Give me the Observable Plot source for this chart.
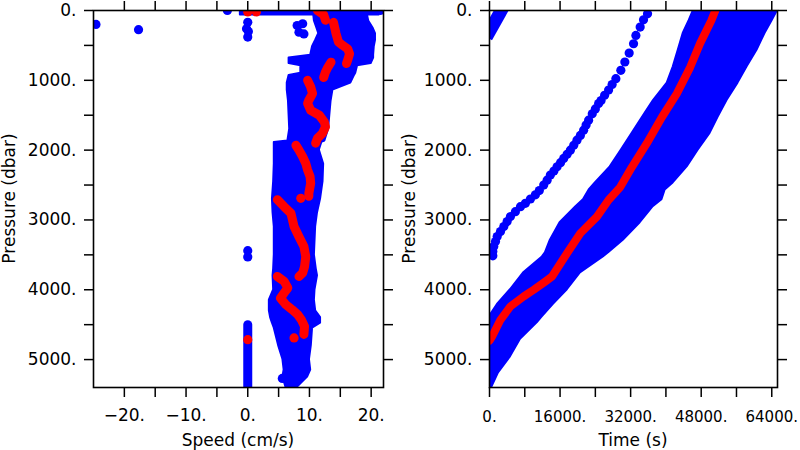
<!DOCTYPE html>
<html><head><meta charset="utf-8">
<script src="https://cdn.jsdelivr.net/npm/d3@7"></script>
<script src="https://cdn.jsdelivr.net/npm/@observablehq/plot@0.6"></script>
<style>
body{margin:0;background:#fff;}
#wrap{position:relative;width:800px;height:450px;overflow:hidden;}
#left,#right{position:absolute;top:0;width:400px;height:450px;}
#left{left:0}#right{left:400px}
</style></head><body>
<div id="wrap"><div id="left"></div><div id="right"></div></div>
<script>
const BLUE = "#0000ff", RED = "#ff0000";

// ---------- Left panel: Speed vs Pressure ----------
const spdTicks = [-20, -15, -10, -5, 0, 5, 10, 15, 20];
const spdLabels = [-20, -10, 0, 10, 20];
const presTicks = [0, 500, 1000, 1500, 2000, 2500, 3000, 3500, 4000, 4500, 5000];
const presLabels = [0, 1000, 2000, 3000, 4000, 5000];

// envelope of the blue speed cloud
const spdEnvP  = [0, 65, 65, 150, 250, 330, 430, 520, 640, 680, 760, 790, 900, 930, 1040, 1140, 1300, 1500, 1700, 1870, 1890, 2000, 2200, 2450, 2700, 2900, 3100, 3500, 3700, 3800, 4000, 4150, 4300, 4400, 4480, 4550, 4800, 5000, 5150, 5250, 5400];
const spdEnvLo = [-1.2, -1.2, 10.7, 10.8, 11.2, 11.5, 11.0, 10.5, 10.2, 6.7, 6.7, 8.6, 8.6, 6.7, 6.4, 6.4, 6.6, 6.7, 6.8, 6.5, 4.3, 4.3, 4.3, 4.2, 4.0, 4.1, 4.3, 4.3, 4.2, 4.1, 4.2, 3.5, 3.5, 3.7, 4.0, 4.3, 5.0, 5.7, 5.9, 5.7, 6.2];
const spdEnvHi = [21.3, 21.3, 19.4, 19.6, 20.3, 20.7, 20.7, 20.5, 20.4, 20.4, 20.0, 17.8, 17.5, 17.3, 16.7, 13.8, 13.5, 13.3, 13.1, 12.5, 12.0, 11.6, 12.3, 12.2, 11.8, 11.3, 11.0, 10.8, 11.1, 11.3, 10.9, 10.8, 11.0, 11.8, 11.8, 10.5, 10.3, 10.0, 10.2, 9.7, 8.0];

// isolated blue speed points
const spdOutS = [-24.6, -17.7, -3.3, 21.5, 0, -0.2, 0.1, 0, 0, 0, 8.0, 8.9, 8.3, 9.1, 5.6];
const spdOutP = [200, 275, 0, 0, 170, 260, 300, 380, 3440, 3530, 215, 190, 310, 335, 5270];
// zero-speed column at depth
const zeroColS = [0, 0];
const zeroColP = [4500, 5400];

// mean speed profile (red), in segments
const meanSeg = [1,1,1, 2,2,2,2,2,2,2,2, 3,3,3,3, 4,4,4,4,4,4,4,4,4,4,4,4, 5,5,5,5,5,5,5,5,5, 6,6,6,6,6,6,6,6,6,6, 7,7,7,7,7,7,7,7,7,7,7];
const meanS = [11.3, 12.3, 12.6,
  13.9, 14.3, 14.7, 15.4, 16.2, 16.5, 16.2, 16.0,
  13.5, 13.0, 12.6, 12.3,
  9.7, 10.2, 10.5, 9.9, 9.7, 10.2, 11.6, 12.4, 12.6, 12.1, 11.3, 11.0,
  7.8, 8.3, 8.9, 9.4, 9.7, 10.1, 10.2, 9.9, 9.9,
  4.8, 5.9, 7.0, 7.5, 8.3, 9.1, 9.4, 9.2, 8.9, 8.3,
  4.8, 5.9, 6.5, 5.9, 5.3, 6.2, 7.2, 8.1, 8.7, 9.2, 9.1];
const meanP = [0, 60, 140,
  170, 330, 450, 500, 550, 620, 710, 760,
  740, 810, 880, 960,
  1000, 1095, 1190, 1285, 1330, 1430, 1500, 1595, 1665, 1760, 1830, 1900,
  1930, 2000, 2095, 2190, 2285, 2380, 2475, 2620, 2660,
  2710, 2810, 2905, 3095, 3240, 3380, 3525, 3670, 3760, 3810,
  3810, 3880, 3975, 4045, 4120, 4215, 4285, 4355, 4430, 4525, 4640];
const meanDotS = [8.6, 7.5, 0, 0, 1.4];
const meanDotP = [2690, 4690, 4715, 20, 20];

// ---------- Right panel: Time vs Pressure ----------
const timeTicks = [0, 8000, 16000, 24000, 32000, 40000, 48000, 56000, 64000];
const timeLabels = [0, 16000, 32000, 48000, 64000];

const tEnvP  = [0, 143, 330, 570, 810, 1040, 1290, 1530, 1760, 2000, 2240, 2470, 2570, 2710, 2810, 3040, 3290, 3470, 3530, 3760, 4000, 4210, 4386, 4470, 4710, 4960, 5190, 5400];
const tEnvLo = [46240, 45300, 43920, 42800, 41660, 40300, 37180, 34700, 32360, 29900, 27380, 24000, 22600, 21300, 19600, 16000, 13800, 12670, 11990, 7700, 4750, 1800, 0, 0, 0, 0, 0, 0];
const tEnvHi = [65300, 64100, 62460, 60650, 58380, 56340, 53850, 51820, 50010, 47300, 44810, 41640, 39830, 39100, 37110, 34170, 30330, 27000, 25800, 20600, 17650, 14480, 12000, 10860, 7020, 4750, 2040, 500];

// separate profile track (blue dots)
const trackT = [35830, 34920, 34160, 33190, 32660, 31670, 30690, 29780, 28650, 27800, 27000, 26100, 25300, 24740, 24000, 23300, 22470, 21900, 21340, 20600, 19830, 19100, 18330, 17600, 16820, 16100, 15320, 14600, 13800, 13060, 12290, 11300, 10410, 9280, 8140, 7020, 5870, 4750, 4000, 3250, 2490, 1740, 1360, 970, 750, 750];
const trackP = [48, 133, 238, 357, 476, 610, 738, 857, 976, 1060, 1140, 1214, 1290, 1333, 1410, 1480, 1571, 1640, 1714, 1790, 1857, 1930, 2000, 2060, 2119, 2180, 2238, 2300, 2357, 2430, 2500, 2580, 2640, 2700, 2762, 2810, 2881, 2952, 3024, 3095, 3167, 3238, 3310, 3381, 3452, 3514];

// short wrapped track in top-left corner
const wrapT = [0, 2660];
const wrapP = [300, 0];

// mean time profile (red)
const tRed = [51200, 50300, 47750, 45490, 42470, 39080, 35690, 32290, 29650, 27000, 24370, 20600, 17580, 14180, 12670, 10030, 7770, 4750, 2490, 600, 0];
const pRed = [0, 143, 471, 814, 1190, 1529, 1900, 2243, 2529, 2714, 2952, 3190, 3476, 3810, 3881, 4000, 4095, 4238, 4430, 4667, 4730];

// ---------- helpers ----------
const zip = (a, b, ka, kb) => a.map((v, i) => ({[ka]: v, [kb]: b[i]}));
const fmtNum = d => (d < 0 ? "\u2212" : "") + Math.abs(d) + ".";

function axes(xTicks, xLabels, yTicks, yLabels, xFont, xPad) {
  return [
    Plot.axisX(xTicks, {anchor: "bottom", tickSize: 10, tickPadding: xPad, strokeWidth: 1.5, fontSize: xFont,
      tickFormat: d => xLabels.includes(d) ? fmtNum(d) : "", label: null}),
    Plot.axisX(xTicks, {anchor: "top", tickSize: 10, strokeWidth: 1.5, tickFormat: () => "", label: null}),
    Plot.axisY(yTicks, {anchor: "left", tickSize: 9, tickPadding: 8, strokeWidth: 1.5, fontSize: 17,
      tickFormat: d => yLabels.includes(d) ? fmtNum(d) : "", label: null}),
    Plot.axisY(yTicks, {anchor: "right", tickSize: 9, strokeWidth: 1.5, tickFormat: () => "", label: null}),
    Plot.frame({stroke: "#000", strokeWidth: 1.6})
  ];
}

function addTitles(svg, xTitle, yTitle, frameL, frameR, yX) {
  const s = d3.select(svg);
  s.append("text").attr("x", (frameL + frameR) / 2).attr("y", 445.5)
    .attr("text-anchor", "middle").attr("font-size", 17).attr("fill", "#000").text(xTitle);
  s.append("text").attr("transform", `translate(${yX},198.5) rotate(-90)`)
    .attr("text-anchor", "middle").attr("font-size", 17).attr("fill", "#000").text(yTitle);
}

const common = {
  width: 400, height: 450, marginTop: 10, marginBottom: 63,
  style: {fontFamily: "'DejaVu Sans', sans-serif", fontSize: "17px", color: "#000", background: "transparent", overflow: "visible"}
};

// ---------- Left plot ----------
const envL = spdEnvP.map((p, i) => ({p, lo: spdEnvLo[i], hi: spdEnvHi[i]}));
const meanL = meanS.map((s, i) => ({s, p: meanP[i], g: meanSeg[i]}));

const left = Plot.plot({
  ...common,
  marginLeft: 93, marginRight: 17,
  x: {domain: [-25, 22], axis: null},
  y: {domain: [0, 5400], reverse: true, axis: null},
  marks: [
    Plot.areaX(envL, {y: "p", x1: "lo", x2: "hi", fill: BLUE, stroke: BLUE, strokeWidth: 2, clip: true}),
    Plot.line(zip(zeroColS, zeroColP, "s", "p"), {x: "s", y: "p", stroke: BLUE, strokeWidth: 9, strokeLinecap: "round", clip: true}),
    Plot.dot(zip(spdOutS, spdOutP, "s", "p"), {x: "s", y: "p", r: 4.6, fill: BLUE, clip: true}),
    Plot.line(meanL, {x: "s", y: "p", z: "g", stroke: RED, strokeWidth: 9, strokeLinecap: "round", strokeLinejoin: "round", clip: true}),
    Plot.dot(zip(meanDotS, meanDotP, "s", "p"), {x: "s", y: "p", r: 4.6, fill: RED, clip: true}),
    ...axes(spdTicks, spdLabels, presTicks, presLabels, 17, 11)
  ]
});
addTitles(left, "Speed (cm/s)", "Pressure (dbar)", 93, 383, 15);
document.getElementById("left").appendChild(left);

// ---------- Right plot ----------
const envR = tEnvP.map((p, i) => ({p, lo: tEnvLo[i], hi: tEnvHi[i]}));

const right = Plot.plot({
  ...common,
  marginLeft: 89, marginRight: 23,
  x: {domain: [0, 65300], axis: null},
  y: {domain: [0, 5400], reverse: true, axis: null},
  marks: [
    Plot.areaX(envR, {y: "p", x1: "lo", x2: "hi", fill: BLUE, stroke: BLUE, strokeWidth: 2, clip: true}),
    Plot.dot(zip(trackT, trackP, "t", "p"), {x: "t", y: "p", r: 4.6, fill: BLUE, clip: true}),
    Plot.line(zip(wrapT, wrapP, "t", "p"), {x: "t", y: "p", stroke: BLUE, strokeWidth: 13, strokeLinecap: "square", clip: true}),
    Plot.line(zip(tRed, pRed, "t", "p"), {x: "t", y: "p", stroke: RED, strokeWidth: 8, strokeLinejoin: "round", clip: true}),
    ...axes(timeTicks, timeLabels, presTicks, presLabels, 15, 14)
  ]
});
addTitles(right, "Time (s)", "Pressure (dbar)", 89, 377, 15);
document.getElementById("right").appendChild(right);
</script>
</body></html>
